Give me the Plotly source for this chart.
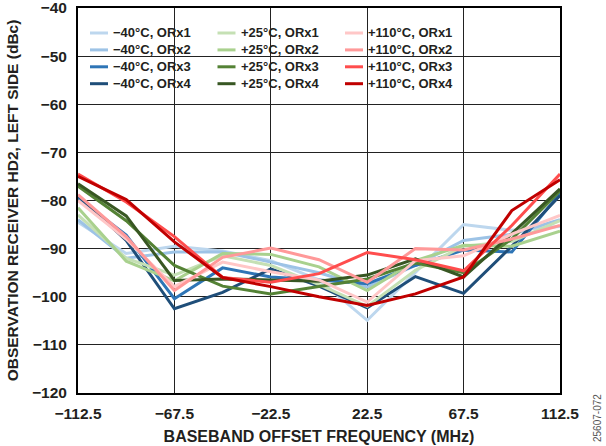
import plotly.graph_objects as go

# Baseband offset frequencies (MHz) at which HD2 was measured
freq_mhz = [-112.5, -90, -67.5, -45, -22.5, 0, 22.5, 45, 67.5, 90, 112.5]

# HD2, left side (dBc) per temperature / ORx channel
hd2_m40_orx1 = [-84.5, -91.0, -89.5, -90.5, -92.5, -96.5, -104.9, -95.0, -85.0, -86.2, -85.4]
hd2_m40_orx2 = [-84.0, -92.0, -90.7, -90.7, -92.8, -95.0, -98.0, -93.5, -88.3, -87.0, -84.0]
hd2_m40_orx3 = [-79.5, -87.2, -100.4, -94.0, -95.9, -96.5, -97.3, -93.5, -90.3, -90.7, -78.5]
hd2_m40_orx4 = [-79.0, -88.3, -102.5, -99.1, -94.2, -97.8, -102.3, -95.8, -99.3, -89.5, -79.0]

hd2_p25_orx1 = [-83.0, -92.0, -95.5, -91.5, -93.5, -97.5, -102.0, -94.5, -89.5, -88.5, -84.2]
hd2_p25_orx2 = [-81.5, -92.6, -96.7, -91.0, -91.2, -93.8, -98.7, -92.5, -89.3, -89.5, -86.4]
hd2_p25_orx3 = [-77.0, -84.2, -93.5, -97.8, -99.4, -97.8, -96.3, -93.0, -95.0, -88.0, -78.0]
hd2_p25_orx4 = [-76.5, -83.2, -96.6, -96.3, -96.5, -96.8, -95.5, -92.1, -95.9, -86.9, -77.6]

hd2_p110_orx1 = [-80.0, -88.0, -97.9, -92.8, -94.8, -96.5, -101.1, -92.5, -91.5, -87.0, -83.1]
hd2_p110_orx2 = [-78.8, -87.5, -98.7, -91.8, -89.9, -92.3, -97.0, -90.0, -90.3, -88.0, -85.2]
hd2_p110_orx3 = [-74.5, -80.3, -87.5, -96.0, -97.0, -95.2, -90.8, -92.3, -94.6, -85.2, -74.5]
hd2_p110_orx4 = [-75.0, -79.8, -88.6, -96.0, -97.9, -100.0, -101.8, -99.4, -95.9, -82.1, -75.7]

temperatures = ["−40°C", "+25°C", "+110°C"]
channels = ["ORx1", "ORx2", "ORx3", "ORx4"]
series_values = [
    hd2_m40_orx1, hd2_m40_orx2, hd2_m40_orx3, hd2_m40_orx4,
    hd2_p25_orx1, hd2_p25_orx2, hd2_p25_orx3, hd2_p25_orx4,
    hd2_p110_orx1, hd2_p110_orx2, hd2_p110_orx3, hd2_p110_orx4,
]
series_colors = [
    "#BDD7EE", "#9DC3E6", "#2E75B6", "#1F4E79",
    "#C5E0B4", "#A9D18E", "#548235", "#385723",
    "#FFC7C7", "#FF9999", "#FF4D4D", "#C00000",
]
series_names = [f"{t}, {c}" for t in temperatures for c in channels]

x_tick_vals = [-112.5, -67.5, -22.5, 22.5, 67.5, 112.5]
x_tick_text = ["−112.5", "−67.5", "−22.5", "22.5", "67.5", "112.5"]

FONT = "Liberation Sans, Arial, Helvetica, sans-serif"
INK = "#231F20"

# Figure geometry (pixels)
W, H = 606, 446
ML, MR, MT, MB = 78, 46, 8, 53
PW, PH = W - ML - MR, H - MT - MB


def px_x(px):
    return (px - ML) / PW


def px_y(py):
    return (H - MB - py) / PH


fig = go.Figure()
for name, vals, color in zip(series_names, series_values, series_colors):
    fig.add_trace(go.Scatter(
        x=freq_mhz, y=vals, name=name, mode="lines",
        line=dict(color=color, width=3), showlegend=False,
    ))

# Legend: three columns (temperature) by four rows (ORx channel)
LEG_FONT = 13
row_h = LEG_FONT * 1.3
col_w = 127.5
row0 = 33.0
shapes = [dict(
    type="rect", xref="paper", yref="paper", layer="between",
    x0=px_x(88), x1=px_x(476), y0=px_y(100), y1=px_y(14),
    fillcolor="white", line=dict(width=0),
)]
annotations = []
for col in range(len(temperatures)):
    sx = 90 + col * col_w
    names = series_names[col * 4:(col + 1) * 4]
    colors = series_colors[col * 4:(col + 1) * 4]
    for row, color in enumerate(colors):
        sy = row0 + row * row_h
        shapes.append(dict(
            type="line", xref="paper", yref="paper",
            x0=px_x(sx), x1=px_x(sx + 18), y0=px_y(sy), y1=px_y(sy),
            line=dict(color=color, width=3),
        ))
    annotations.append(dict(
        text="<br>".join(names), xref="paper", yref="paper",
        x=px_x(sx + 21), y=px_y(row0 + 1.5 * row_h),
        xanchor="left", yanchor="middle", align="left", showarrow=False,
        font=dict(family=FONT, size=LEG_FONT, color=INK, weight="bold"),
    ))

annotations.append(dict(
    text="25607-072", xref="paper", yref="paper", x=px_x(598), y=px_y(418),
    xanchor="center", yanchor="middle", showarrow=False, textangle=-90,
    font=dict(family=FONT, size=10, color="#555555"),
))

axis_common = dict(
    automargin=False,
    showline=True, mirror=True, linecolor="black", linewidth=2,
    showgrid=True, gridcolor="#222222", gridwidth=1.4,
    zeroline=False, ticks="", ticklabeloverflow="allow",
    tickfont=dict(family=FONT, size=15.5, color=INK, weight="bold"),
)

fig.update_layout(
    width=W, height=H,
    margin=dict(l=ML, r=MR, t=MT, b=MB, autoexpand=False),
    paper_bgcolor="white", plot_bgcolor="white",
    shapes=shapes, annotations=annotations,
    xaxis=dict(
        range=[-112.5, 112.5], tickmode="array",
        tickvals=x_tick_vals, ticktext=x_tick_text,
        ticklabelstandoff=5,
        title=dict(text="BASEBAND OFFSET FREQUENCY (MHz)", standoff=10,
                   font=dict(family=FONT, size=16, color=INK, weight="bold")),
        **axis_common,
    ),
    yaxis=dict(
        range=[-120, -40], dtick=10, tick0=-120,
        ticklabelstandoff=6,
        title=dict(text="OBSERVATION RECEIVER HD2, LEFT SIDE (dBc)", standoff=10,
                   font=dict(family=FONT, size=15.5, color=INK, weight="bold")),
        **axis_common,
    ),
)

fig.write_html("out.html")
